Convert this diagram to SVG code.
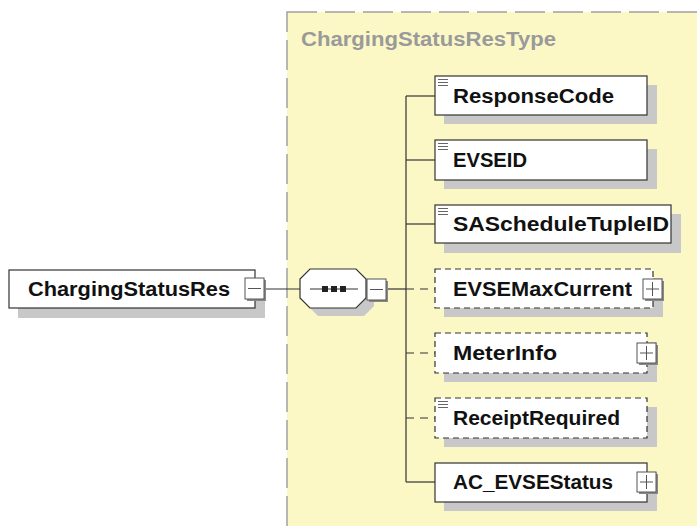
<svg xmlns="http://www.w3.org/2000/svg" width="697" height="526" viewBox="0 0 697 526">
<style>
.bg{fill:#fbf8c6;stroke:#a0a0a0;stroke-width:1.5;stroke-dasharray:30 8}
.sh{fill:#c8c8c8}
.box{fill:#fff;stroke:#333;stroke-width:1.2}
.opt{fill:#fff;stroke:#333;stroke-width:1.2;stroke-dasharray:6 4}
.lbl{font-family:"Liberation Sans",Arial,sans-serif;font-weight:bold;font-size:20px;fill:#111}
.ttl{font-family:"Liberation Sans",Arial,sans-serif;font-weight:bold;font-size:20px;fill:#9a9a9a}
.ln{stroke:#333;stroke-width:1.2;fill:none}
.dl{stroke:#333;stroke-width:1.2;fill:none;stroke-dasharray:8 6}
.doc{stroke:#666;stroke-width:1}
.ico{fill:#fff;stroke:#555;stroke-width:1}
.icosh{fill:#888}
</style>
<defs>
<g id="plus"><rect class="icosh" x="2" y="2" width="19" height="20"/><rect class="ico" x="0" y="0" width="19" height="20"/><path d="M3 10H16M9.5 3V17" stroke="#555" stroke-width="1"/></g>
<g id="minus"><rect class="icosh" x="2" y="2" width="19" height="21"/><rect class="ico" x="0" y="0" width="19" height="21"/><path d="M3 10.5H16" stroke="#555" stroke-width="1"/></g>
<g id="doc"><path class="doc" d="M3 3.5H13M3 6.5H13M3 9.5H13"/></g>
</defs>
<rect class="bg" x="287" y="12" width="430" height="530"/>
<text class="ttl" x="301" y="46" textLength="255" lengthAdjust="spacingAndGlyphs">ChargingStatusResType</text>

<g id="connectors">
<path class="ln" d="M265 289H300"/>
<path class="ln" d="M388 289H406"/>
<path class="ln" d="M406 96V482"/>
<path class="ln" d="M406 96H435"/>
<path class="ln" d="M406 160H435"/>
<path class="ln" d="M406 224H435"/>
<path class="dl" d="M406 289H435"/>
<path class="dl" d="M406 353H435"/>
<path class="dl" d="M406 418H435"/>
<path class="ln" d="M406 482H435"/>
</g>

<g id="ChargingStatusRes">
<rect class="sh" x="18" y="279" width="247" height="39"/>
<rect class="box" x="9" y="270" width="246" height="38"/>
<text class="lbl" x="28" y="296" textLength="202" lengthAdjust="spacingAndGlyphs">ChargingStatusRes</text>
<use href="#minus" x="245" y="278"/>
</g>

<g id="sequence">
<polygon class="sh" points="318,277 364,277 374,287 374,306 364,316 318,316 308,306 308,287"/>
<polygon class="box" points="310,269 356,269 366,279 366,298 356,308 310,308 300,298 300,279"/>
<path class="ln" d="M310 289H358"/>
<rect x="322" y="286" width="6" height="6" fill="#222"/>
<rect x="331" y="286" width="6" height="6" fill="#222"/>
<rect x="340" y="286" width="6" height="6" fill="#222"/>
<use href="#minus" x="367" y="279"/>
</g>

<g id="ResponseCode">
<rect class="sh" x="444" y="85" width="213" height="39"/>
<rect class="box" x="435" y="76" width="212" height="39"/>
<use href="#doc" x="435" y="76"/>
<text class="lbl" x="453" y="103" textLength="161" lengthAdjust="spacingAndGlyphs">ResponseCode</text>
</g>

<g id="EVSEID">
<rect class="sh" x="444" y="149" width="213" height="40"/>
<rect class="box" x="435" y="140" width="212" height="40"/>
<use href="#doc" x="435" y="140"/>
<text class="lbl" x="453" y="167" textLength="74" lengthAdjust="spacingAndGlyphs">EVSEID</text>
</g>

<g id="SAScheduleTupleID">
<rect class="sh" x="444" y="214" width="237" height="39"/>
<rect class="box" x="435" y="205" width="236" height="38"/>
<use href="#doc" x="435" y="205"/>
<text class="lbl" x="453" y="231" textLength="216" lengthAdjust="spacingAndGlyphs">SAScheduleTupleID</text>
</g>

<g id="EVSEMaxCurrent">
<rect class="sh" x="444" y="278" width="219" height="39"/>
<rect class="opt" x="435" y="269" width="218" height="39"/>
<text class="lbl" x="453" y="296" textLength="179" lengthAdjust="spacingAndGlyphs">EVSEMaxCurrent</text>
<use href="#plus" x="643" y="279"/>
</g>

<g id="MeterInfo">
<rect class="sh" x="444" y="342" width="213" height="40"/>
<rect class="opt" x="435" y="333" width="212" height="40"/>
<text class="lbl" x="453" y="360" textLength="104" lengthAdjust="spacingAndGlyphs">MeterInfo</text>
<use href="#plus" x="637" y="343"/>
</g>

<g id="ReceiptRequired">
<rect class="sh" x="444" y="407" width="213" height="40"/>
<rect class="opt" x="435" y="398" width="212" height="40"/>
<use href="#doc" x="435" y="398"/>
<text class="lbl" x="453" y="425" textLength="167" lengthAdjust="spacingAndGlyphs">ReceiptRequired</text>
</g>

<g id="AC_EVSEStatus">
<rect class="sh" x="444" y="472" width="213" height="39"/>
<rect class="box" x="435" y="463" width="212" height="39"/>
<text class="lbl" x="453" y="489" textLength="160" lengthAdjust="spacingAndGlyphs">AC_EVSEStatus</text>
<use href="#plus" x="637" y="472"/>
</g>
</svg>
